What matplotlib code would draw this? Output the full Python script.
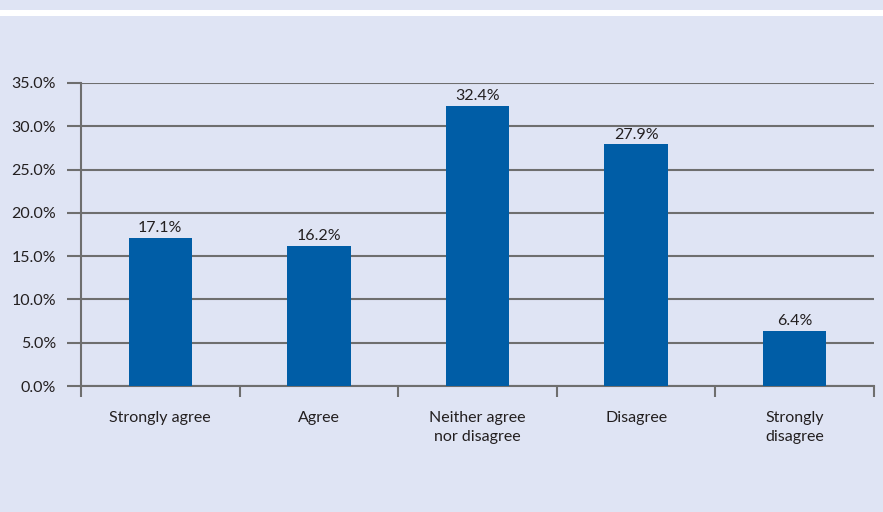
import numpy as np
import matplotlib.pyplot as plt
from matplotlib.patches import Rectangle
from matplotlib.ticker import FuncFormatter, FixedLocator

# Survey responses
categories = ["Strongly agree", "Agree", "Neither agree\nnor disagree", "Disagree", "Strongly\ndisagree"]
shares = [17.1, 16.2, 32.4, 27.9, 6.4]
y_ticks = [0, 5, 10, 15, 20, 25, 30, 35]

bg = "#DFE4F4"
bar_color = "#005DA6"
grid_color = "#6E6E6E"
text_color = "#231F20"

plt.rcParams["font.family"] = ["Lato", "DejaVu Sans"]

fig = plt.figure(figsize=(8.83, 5.12), dpi=100, facecolor=bg)

# White separator band near the top
fig.patches.append(Rectangle((0, 1 - 16 / 512), 1, 6 / 512, transform=fig.transFigure,
                             facecolor="white", edgecolor="none", zorder=0))

ax = fig.add_axes([81 / 883, 1 - 386 / 512, (874 - 81) / 883, (386 - 83) / 512])
ax.set_facecolor(bg)

x = np.arange(len(categories))
bars = ax.bar(x, shares, width=0.4, color=bar_color, zorder=3)

for xi, v in zip(x, shares):
    ax.text(xi, v + 0.3, f"{v:.1f}%", ha="center", va="bottom",
            fontsize=11.5, color=text_color, zorder=4)

ax.set_xlim(-0.5, len(categories) - 0.5)
ax.set_ylim(0, 35)
ax.set_yticks(y_ticks)
ax.yaxis.set_major_formatter(FuncFormatter(lambda v, p: f"{v:.1f}%"))
ax.grid(axis="y", color=grid_color, linewidth=1.5, zorder=1)
ax.set_axisbelow(True)

# category labels centred, tick marks on boundaries
ax.set_xticks(x)
ax.set_xticklabels(categories, fontsize=11.5, color=text_color, linespacing=1.45, va="top")
ax.tick_params(axis="x", which="major", length=0, pad=18)
ax.xaxis.set_minor_locator(FixedLocator(np.arange(len(categories) + 1) - 0.5))
ax.tick_params(axis="x", which="minor", length=8, width=1.5, color=grid_color)
ax.tick_params(axis="y", length=10, width=1.5, color=grid_color, pad=8,
               labelsize=11.5, labelcolor=text_color)

for side in ["top", "right"]:
    ax.spines[side].set_visible(False)
for side in ["left", "bottom"]:
    ax.spines[side].set_color(grid_color)
    ax.spines[side].set_linewidth(1.5)

fig.savefig("out.png", dpi=100, facecolor=bg)
